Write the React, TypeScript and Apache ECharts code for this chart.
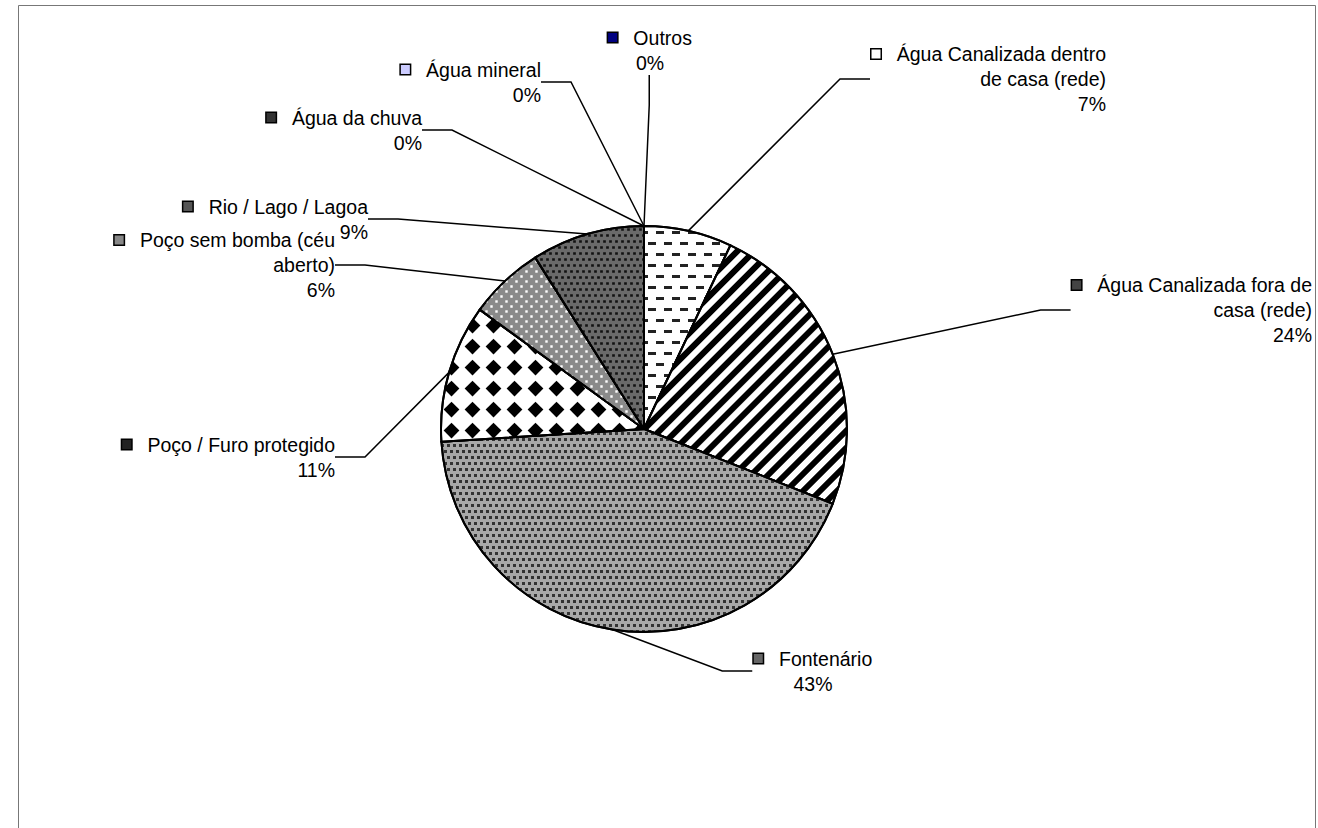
import React, { useEffect, useRef } from "react";
import * as echarts from "echarts";

const categories = [
  "Água Canalizada dentro\nde casa (rede)",
  "Água Canalizada fora de\ncasa (rede)",
  "Fontenário",
  "Poço / Furo protegido",
  "Poço sem bomba (céu\naberto)",
  "Rio / Lago / Lagoa",
  "Água da chuva",
  "Água mineral",
  "Outros",
];
const values = [7, 24, 43, 11, 6, 9, 0, 0, 0];
const percentLabels = ["7%", "24%", "43%", "11%", "6%", "9%", "0%", "0%", "0%"];

const fills = ["#fff", "#fff", "#a8a8a8", "#fff", "#8a8a8a", "#6a6a6a", "#fff", "#ccccff", "#000080"];
const markerFills = ["#fff", "#444", "#666", "#222", "#888", "#555", "#333", "#ccccff", "#000080"];

const decals: any[] = [
  { symbol: "rect", symbolSize: 1, dashArrayX: [[8, 8], [0, 8, 8, 0]], dashArrayY: [2.5, 8], color: "#222" },
  { symbol: "rect", symbolSize: 1, rotation: -Math.PI / 4, dashArrayX: [1, 0], dashArrayY: [5.5, 5.5], color: "#000" },
  { symbol: "rect", symbolSize: 1, dashArrayX: [[3, 3], [0, 3, 3, 0]], dashArrayY: [3, 3], color: "#333" },
  { symbol: "diamond", symbolSize: 0.75, dashArrayX: [21, 0], dashArrayY: [21, 0], color: "#000" },
  { symbol: "rect", symbolSize: 0.8, dashArrayX: [[3, 7], [0, 5, 3, 2]], dashArrayY: [3, 2], color: "#fff" },
  { symbol: "rect", symbolSize: 0.9, dashArrayX: [[3, 3], [0, 3, 3, 0]], dashArrayY: [3, 3], color: "#111" },
  null,
  null,
  null,
];

// label anchor, alignment
const labelPos: [number, number, string][] = [
  [1106, 79, "right"],
  [1312, 310, "right"],
  [813, 671, "center"],
  [335, 457, "right"],
  [335, 265, "right"],
  [368, 219, "right"],
  [422, 130, "right"],
  [541, 82, "right"],
  [650, 50, "center"],
];

const App: React.FC = () => {
  const chartRef = useRef<HTMLDivElement>(null);

  useEffect(() => {
    const chart = echarts.init(chartRef.current!, null, { renderer: "svg" });

    const option: echarts.EChartsOption = {
      animation: false,
      backgroundColor: "#fff",
      graphic: [
        {
          type: "rect",
          shape: { x: 18.5, y: 5.5, width: 1297, height: 840 },
          style: { fill: "none", stroke: "#777", lineWidth: 1 },
          silent: true,
        },
      ],
      series: [
        {
          type: "pie",
          center: [644, 429],
          radius: 203,
          startAngle: 90,
          clockwise: true,
          minAngle: 0,
          avoidLabelOverlap: false,
          itemStyle: { borderColor: "#000", borderWidth: 2 },
          label: {
            show: true,
            position: "outside",
            fontFamily: "Liberation Sans, Arial, sans-serif",
            fontSize: 19.5,
            lineHeight: 25,
            color: "#000",
            formatter: (p: any) =>
              `{m${p.dataIndex}|}   ${p.name}\n${percentLabels[p.dataIndex]}`,
            rich: Object.fromEntries(
              markerFills.map((c, i) => [
                `m${i}`,
                { width: 9, height: 9, backgroundColor: c, borderColor: "#000", borderWidth: 1.5 },
              ])
            ),
          },
          labelLine: {
            show: true,
            lineStyle: { color: "#000", width: 1.5 },
          },
          labelLayout: (p: any) => {
            const [x, y, align] = labelPos[p.dataIndex];
            return { x, y, align: align as any, verticalAlign: "middle" };
          },
          data: categories.map((name, i) => ({
            name,
            value: values[i],
            label: { align: labelPos[i][2] as any },
            itemStyle: { color: fills[i], decal: decals[i] ?? undefined },
          })),
        },
      ],
    };

    chart.setOption(option);
    return () => chart.dispose();
  }, []);

  return (
    <div
      ref={chartRef}
      style={{ position: "absolute", left: 0, top: 0, width: "1318px", height: "828px" }}
    />
  );
};

export default App;
